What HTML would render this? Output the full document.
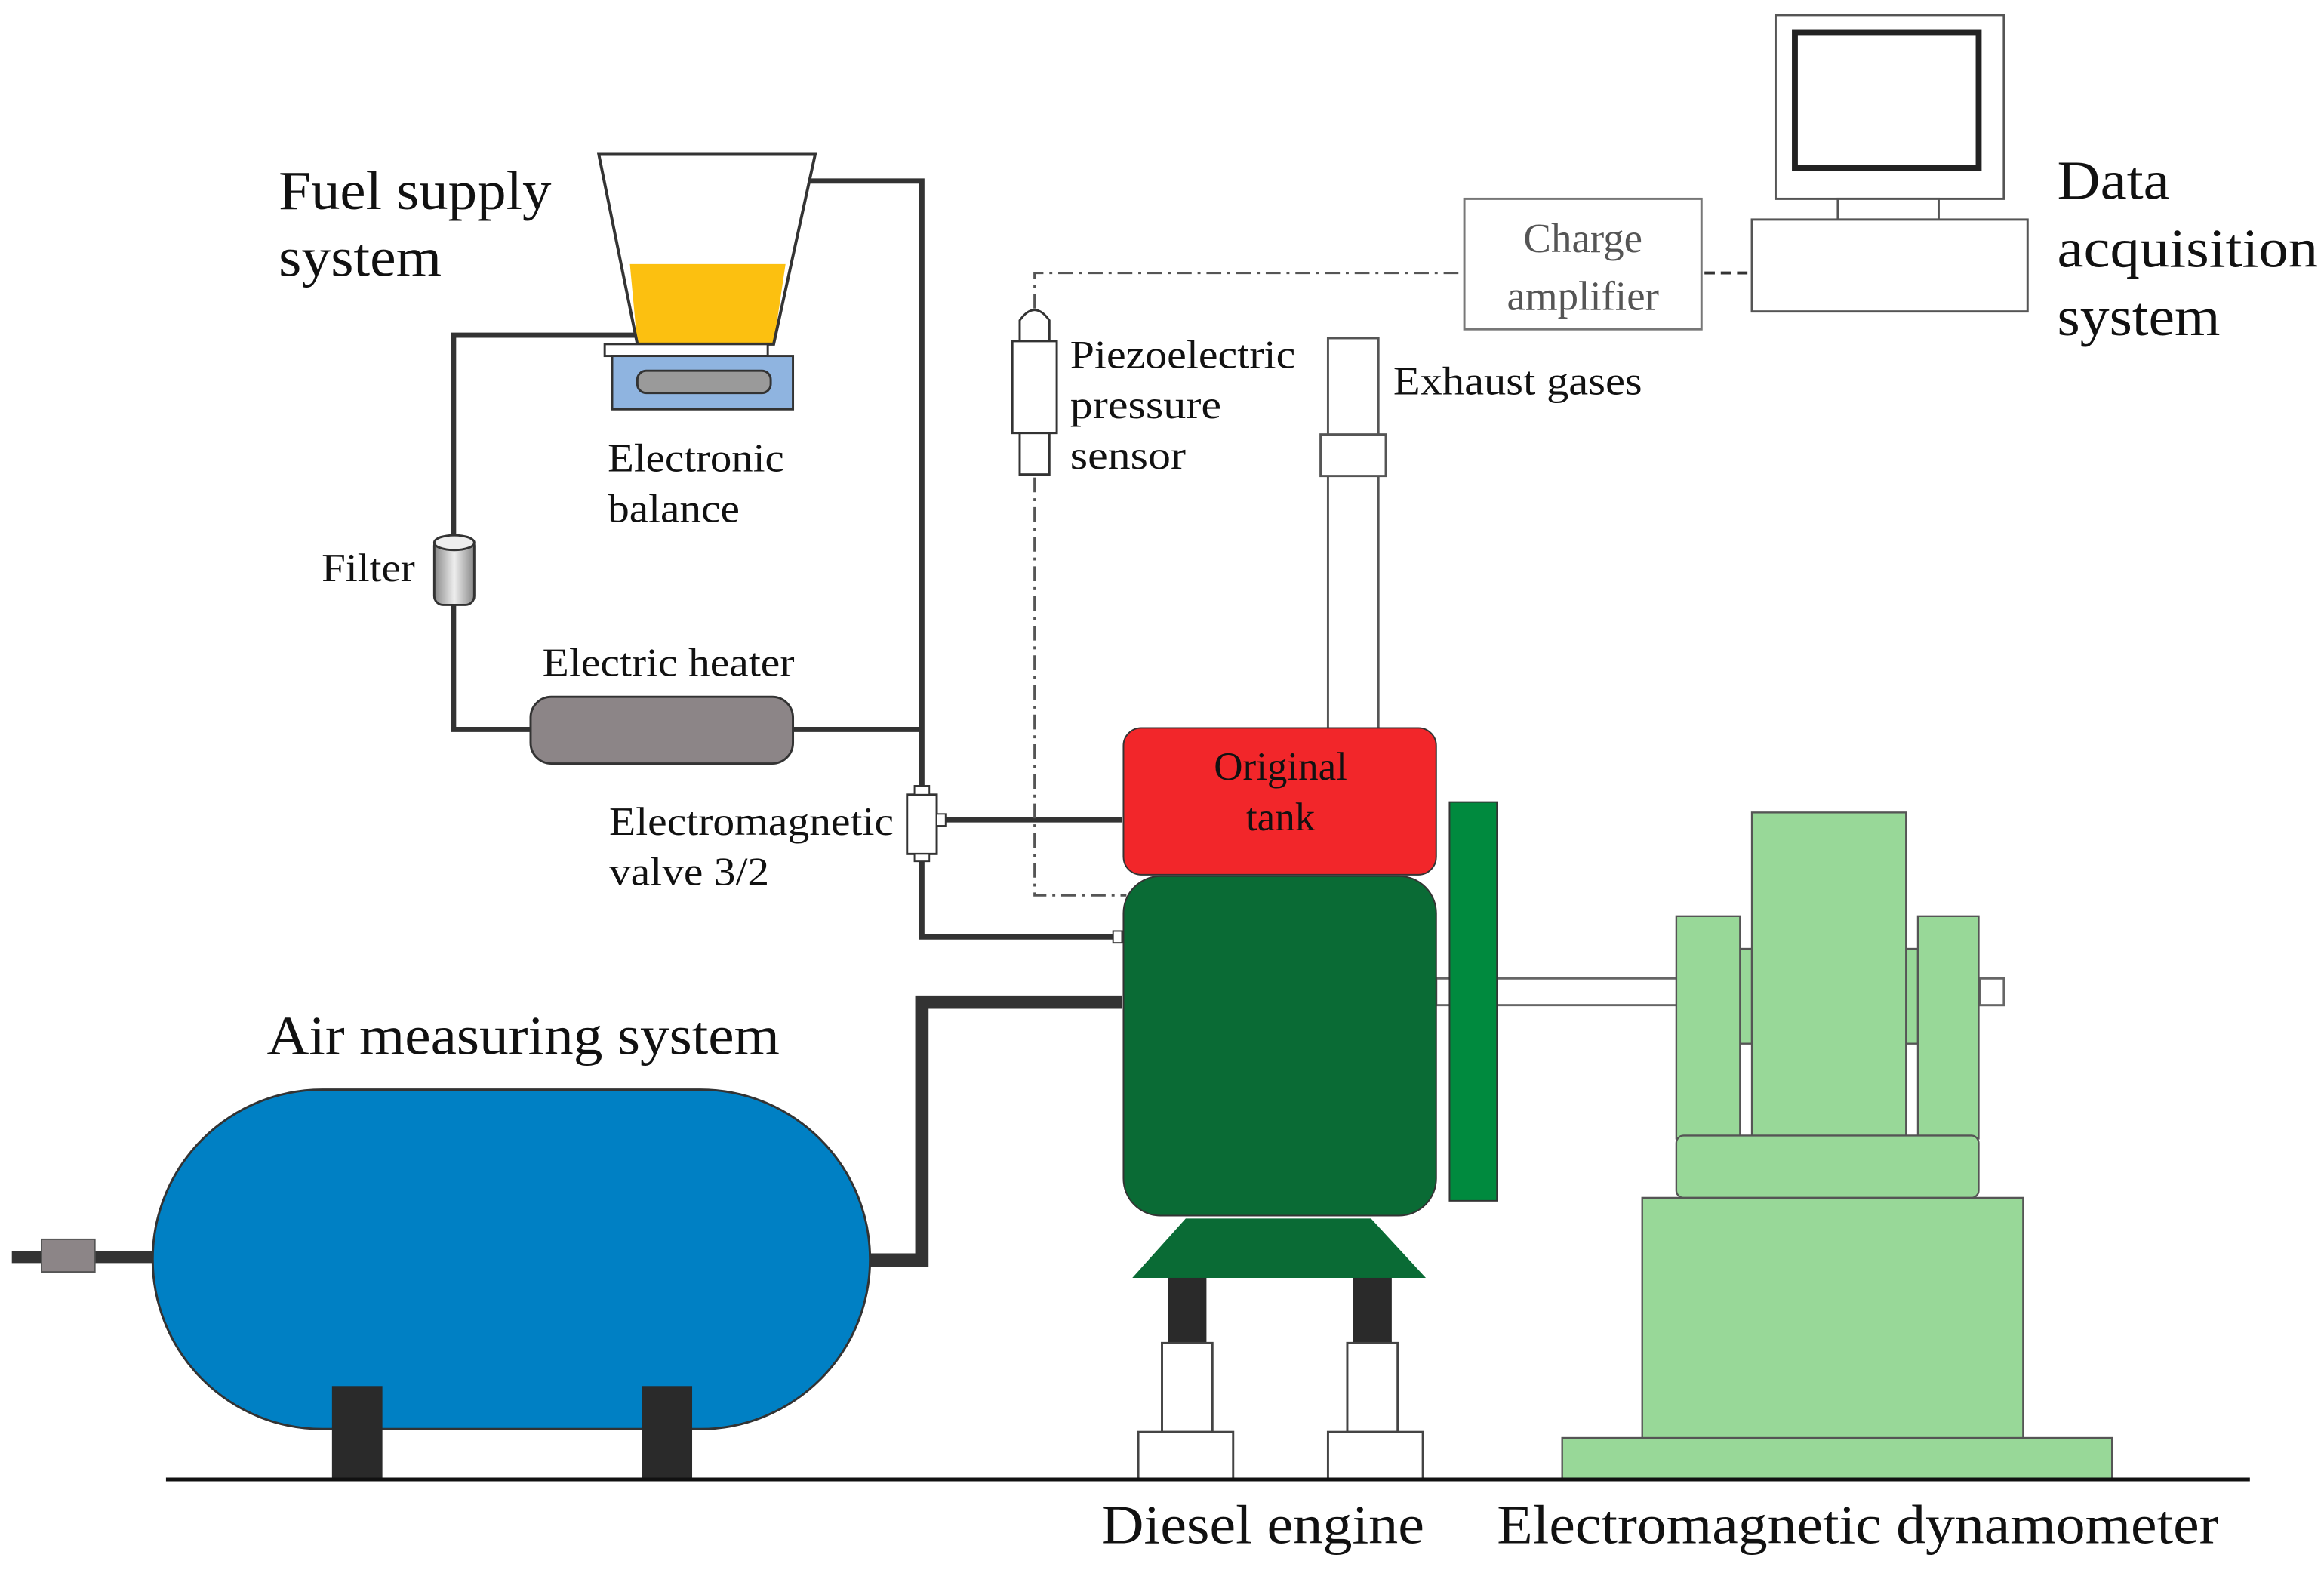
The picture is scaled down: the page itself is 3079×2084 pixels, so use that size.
<!DOCTYPE html>
<html><head><meta charset="utf-8"><style>
html,body{margin:0;padding:0;background:#fff;}
svg{display:block;}
text{font-family:"Liberation Serif",serif;fill:#111;}
</style></head><body>
<svg width="3079" height="2084" viewBox="0 0 1568 1061" xmlns="http://www.w3.org/2000/svg">
<rect width="1568" height="1061" fill="#fff"/>
<!-- labels -->
<text x="188" y="141" font-size="37" textLength="184" lengthAdjust="spacingAndGlyphs">Fuel supply</text>
<text x="188" y="186" font-size="37" textLength="110" lengthAdjust="spacingAndGlyphs">system</text>
<text x="1388" y="134" font-size="37" textLength="76" lengthAdjust="spacingAndGlyphs">Data</text>
<text x="1388" y="180" font-size="37" textLength="176" lengthAdjust="spacingAndGlyphs">acquisition</text>
<text x="1388" y="226" font-size="37" textLength="110" lengthAdjust="spacingAndGlyphs">system</text>
<text x="180" y="711" font-size="37" textLength="346" lengthAdjust="spacingAndGlyphs">Air measuring system</text>
<text x="743" y="1041" font-size="37" textLength="218" lengthAdjust="spacingAndGlyphs">Diesel engine</text>
<text x="1010" y="1041" font-size="37" textLength="487" lengthAdjust="spacingAndGlyphs">Electromagnetic dynamometer</text>
<text x="410" y="318" font-size="27" textLength="119" lengthAdjust="spacingAndGlyphs">Electronic</text>
<text x="410" y="352" font-size="27" textLength="89" lengthAdjust="spacingAndGlyphs">balance</text>
<text x="217" y="392" font-size="27" textLength="63" lengthAdjust="spacingAndGlyphs">Filter</text>
<text x="366" y="456" font-size="27" textLength="170" lengthAdjust="spacingAndGlyphs">Electric heater</text>
<text x="411" y="563" font-size="27" textLength="192" lengthAdjust="spacingAndGlyphs">Electromagnetic</text>
<text x="411" y="597" font-size="27" textLength="108" lengthAdjust="spacingAndGlyphs">valve 3/2</text>
<text x="722" y="248" font-size="27" textLength="152" lengthAdjust="spacingAndGlyphs">Piezoelectric</text>
<text x="722" y="282" font-size="27" textLength="102" lengthAdjust="spacingAndGlyphs">pressure</text>
<text x="722" y="316" font-size="27" textLength="78" lengthAdjust="spacingAndGlyphs">sensor</text>
<text x="940" y="266" font-size="27" textLength="168" lengthAdjust="spacingAndGlyphs">Exhaust gases</text>

<!-- fuel lines -->
<g fill="none" stroke="#333" stroke-width="3.5">
<polyline points="546,122 622,122 622,532"/>
<polyline points="430,226 306,226 306,360"/>
<polyline points="306,408 306,492 358,492"/>
<polyline points="535,492 622,492"/>
<polyline points="632,553 757,553"/>
<polyline points="622,578 622,632 752,632"/>
</g>
<rect x="751" y="628" width="6" height="8" fill="#fff" stroke="#333" stroke-width="1"/>
<!-- hopper -->
<polygon points="425,178 530,178 522,232 430,232" fill="#fcc010"/>
<polygon points="404,104 550,104 522,232 430,232" fill="none" stroke="#333" stroke-width="2"/>
<rect x="408" y="232" width="110" height="8" fill="#fff" stroke="#333" stroke-width="1.5"/>
<rect x="413" y="240" width="122" height="36" fill="#8fb4e0" stroke="#333" stroke-width="1.5"/>
<rect x="430" y="250" width="90" height="15" rx="6" fill="#9a9a9a" stroke="#333" stroke-width="1.5"/>
<!-- filter -->
<defs><linearGradient id="fg" x1="0" x2="1"><stop offset="0" stop-color="#888"/><stop offset="0.5" stop-color="#eee"/><stop offset="1" stop-color="#888"/></linearGradient></defs>
<rect x="293" y="362" width="27" height="46" rx="6" fill="url(#fg)" stroke="#333" stroke-width="1.5"/>
<ellipse cx="306.5" cy="366" rx="13.5" ry="5" fill="#eee" stroke="#333" stroke-width="1.5"/>
<!-- heater -->
<rect x="358" y="470" width="177" height="45" rx="14" fill="#8c8587" stroke="#333" stroke-width="1.5"/>
<!-- valve -->
<rect x="612" y="536" width="20" height="40" fill="#fff" stroke="#333" stroke-width="1.5"/>
<rect x="617" y="530" width="10" height="6" fill="#fff" stroke="#333" stroke-width="1"/>
<rect x="617" y="576" width="10" height="5" fill="#fff" stroke="#333" stroke-width="1"/>
<rect x="632" y="549" width="6" height="8" fill="#fff" stroke="#333" stroke-width="1"/>
<!-- signal lines -->
<g fill="none" stroke="#555" stroke-width="1.5" stroke-dasharray="10,4,2,4">
<polyline points="698,208 698,184 987,184"/>
<polyline points="698,322 698,604 760,604"/>
</g>
<line x1="1150" y1="184" x2="1181" y2="184" stroke="#333" stroke-width="2" stroke-dasharray="7,4"/>
<!-- sensor -->
<path d="M688,230 L688,216 Q698,202 708,216 L708,230 Z" fill="#fff" stroke="#333" stroke-width="1.5"/>
<rect x="683" y="230" width="30" height="62" fill="#fff" stroke="#333" stroke-width="1.5"/>
<rect x="688" y="292" width="20" height="28" fill="#fff" stroke="#333" stroke-width="1.5"/>
<!-- exhaust -->
<rect x="896" y="228" width="34" height="264" fill="#fff" stroke="#555" stroke-width="1.5"/>
<rect x="891" y="293" width="44" height="28" fill="#fff" stroke="#555" stroke-width="1.5"/>
<!-- charge amplifier -->
<rect x="988" y="134" width="160" height="88" fill="#fff" stroke="#777" stroke-width="1.5"/>
<text x="1068" y="170" font-size="28" text-anchor="middle" style="fill:#555">Charge</text>
<text x="1068" y="209" font-size="28" text-anchor="middle" style="fill:#555">amplifier</text>
<!-- computer -->
<rect x="1198" y="10" width="154" height="124" fill="#fff" stroke="#555" stroke-width="1.5"/>
<rect x="1211" y="22" width="124" height="91" fill="#fff" stroke="#222" stroke-width="4"/>
<rect x="1240" y="134" width="68" height="14" fill="#fff" stroke="#555" stroke-width="1.5"/>
<rect x="1182" y="148" width="186" height="62" fill="#fff" stroke="#555" stroke-width="1.5"/>
<!-- engine -->
<rect x="758" y="491" width="211" height="99" rx="12" fill="#f2262a" stroke="#333" stroke-width="1"/>
<text x="864" y="526" font-size="27" text-anchor="middle">Original</text>
<text x="864" y="560" font-size="27" text-anchor="middle">tank</text>
<rect x="969" y="660" width="383" height="18" fill="#fff" stroke="#666" stroke-width="1.5"/>
<rect x="1336" y="660" width="16" height="18" fill="#fff" stroke="#666" stroke-width="1.5"/>
<rect x="758" y="591" width="211" height="229" rx="25" fill="#0a6b35" stroke="#333" stroke-width="1"/>
<rect x="978" y="541" width="32" height="269" fill="#008a3e" stroke="#333" stroke-width="1"/>
<polygon points="800,822 925,822 962,862 764,862" fill="#0a6b35"/>
<rect x="788" y="862" width="26" height="44" fill="#2a2a2a"/>
<rect x="913" y="862" width="26" height="44" fill="#2a2a2a"/>
<rect x="784" y="906" width="34" height="60" fill="#fff" stroke="#444" stroke-width="1.5"/>
<rect x="909" y="906" width="34" height="60" fill="#fff" stroke="#444" stroke-width="1.5"/>
<rect x="768" y="966" width="64" height="32" fill="#fff" stroke="#444" stroke-width="1.5"/>
<rect x="896" y="966" width="64" height="32" fill="#fff" stroke="#444" stroke-width="1.5"/>
<!-- dynamometer -->
<g fill="#98d898" stroke="#555" stroke-width="1.2">
<rect x="1174" y="640" width="8" height="64"/>
<rect x="1286" y="640" width="8" height="64"/>
<rect x="1182" y="548" width="104" height="220"/>
<rect x="1131" y="618" width="43" height="150"/>
<rect x="1294" y="618" width="41" height="150"/>
<rect x="1131" y="766" width="204" height="42" rx="5"/>
<rect x="1108" y="808" width="257" height="164"/>
<rect x="1054" y="970" width="371" height="28"/>
</g>
<!-- air tank -->
<line x1="8" y1="848" x2="103" y2="848" stroke="#333" stroke-width="8"/>
<rect x="28" y="836" width="36" height="22" fill="#8c8587" stroke="#555" stroke-width="1"/>
<polyline points="587,850 622,850 622,676 757,676" fill="none" stroke="#333" stroke-width="9"/>
<rect x="103" y="735" width="484" height="229" rx="114.5" fill="#0080c4" stroke="#333" stroke-width="1.5"/>
<rect x="224" y="935" width="34" height="63" fill="#2a2a2a"/>
<rect x="433" y="935" width="34" height="63" fill="#2a2a2a"/>
<!-- ground -->
<line x1="112" y1="998" x2="1518" y2="998" stroke="#111" stroke-width="2.5"/>
</svg>
</body></html>
